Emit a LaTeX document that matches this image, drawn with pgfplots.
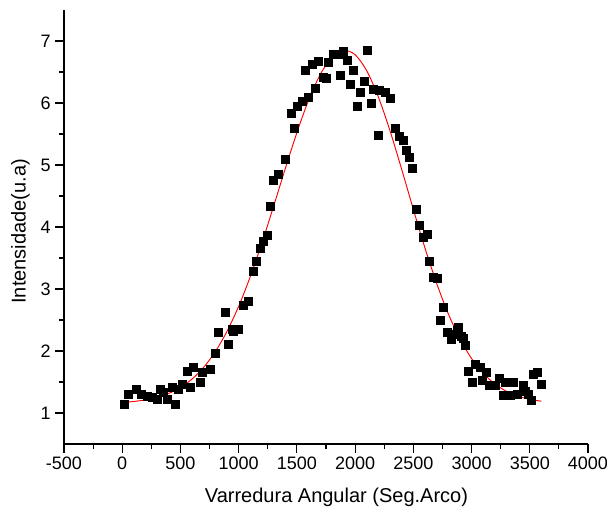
\documentclass[border=0pt]{standalone}
\usepackage{pgfplots}
\pgfplotsset{compat=1.18}
\usepackage{fontspec}
\setmainfont{Liberation Sans}
\begin{document}
\begin{tikzpicture}
\begin{axis}[
  scale only axis,
  width=393pt, height=325.5pt,
  xmin=-500, xmax=4000, ymin=0.5, ymax=7.5,
  axis lines=left,
  axis line style={-, line width=0.9pt},
  tick align=outside,
  tick style={black, line width=0.9pt},
  major tick length=6.5pt,
  minor tick length=4pt,
  xtick={-500,0,500,1000,1500,2000,2500,3000,3500,4000},
  xticklabels={-500,0,500,1000,1500,2000,2500,3000,3500,4000},
  minor xtick={-250,250,750,1250,1750,2250,2750,3250,3750},
  ytick={1,2,3,4,5,6,7},
  yticklabels={1,2,3,4,5,6,7},
  minor ytick={1.5,2.5,3.5,4.5,5.5,6.5},
  ticklabel style={font=\fontsize{13.5}{15}\selectfont},
  label style={font=\fontsize{15}{17}\selectfont},
  xlabel={Varredura Angular (Seg.Arco)},
  ylabel={Intensidade(u.a)},
  xlabel style={at={(axis description cs:0.52,-0.122)}, anchor=center},
  ylabel style={at={(axis description cs:-0.083,0.49)}, anchor=center},
  clip=false,
]
\addplot[only marks, mark=square*, mark size=3pt, black] coordinates {
(17,1.14) (54,1.30) (120,1.38) (161,1.30) (212,1.27) (255,1.25) (298,1.22)
(326,1.38) (355,1.33) (384,1.22) (427,1.41) (455,1.14) (484,1.38) (513,1.46)
(556,1.68) (584,1.41) (613,1.73) (670,1.49) (685,1.65) (756,1.70) (799,1.97)
(827,2.30) (885,2.62) (913,2.11) (942,2.35) (956,2.32) (999,2.35) (1042,2.73)
(1085,2.80) (1128,3.28) (1151,3.45) (1186,3.65) (1214,3.77) (1243,3.87)
(1271,4.34) (1300,4.75) (1343,4.85) (1400,5.09) (1449,5.83) (1480,5.59)
(1501,5.94) (1544,6.03) (1572,6.53) (1601,6.09) (1630,6.62) (1658,6.24)
(1686,6.67) (1724,6.41) (1753,6.40) (1772,6.65) (1810,6.79) (1858,6.79)
(1873,6.45) (1901,6.83) (1936,6.69) (1959,6.31) (1987,6.53) (2016,5.95)
(2045,6.17) (2079,6.35) (2107,6.85) (2137,5.99) (2159,6.22) (2197,5.48)
(2210,6.21) (2259,6.18) (2302,6.07) (2345,5.59) (2382,5.47) (2417,5.40)
(2440,5.23) (2468,5.13) (2494,4.94) (2523,4.29) (2554,4.02) (2583,3.83)
(2618,3.88) (2640,3.45) (2674,3.19) (2709,3.18) (2732,2.50) (2760,2.71)
(2789,2.31) (2824,2.19) (2840,2.27) (2875,2.33) (2889,2.38) (2912,2.24)
(2932,2.21) (2947,2.09) (2975,1.67) (3004,1.49) (3033,1.78) (3076,1.73)
(3090,1.53) (3127,1.65) (3156,1.44) (3204,1.44) (3241,1.56) (3276,1.29)
(3290,1.49) (3333,1.29) (3356,1.49) (3391,1.31) (3442,1.44) (3462,1.35)
(3490,1.31) (3511,1.20) (3533,1.62) (3568,1.66) (3597,1.46)
};
\addplot[red, line width=0.7pt, smooth, no marks] coordinates {
(0,1.170) (100,1.186) (200,1.212) (300,1.253) (400,1.317) (500,1.412)
(600,1.548) (700,1.738) (800,1.991) (900,2.318) (1000,2.721) (1100,3.201)
(1200,3.745) (1300,4.335) (1400,4.940) (1500,5.522) (1600,6.043) (1700,6.458)
(1800,6.735) (1900,6.848) (2000,6.779) (2100,6.519) (2200,6.096) (2300,5.550)
(2400,4.930) (2500,4.285) (2600,3.661) (2700,3.093) (2800,2.601) (2900,2.197)
(3000,1.879) (3100,1.640) (3200,1.469) (3300,1.350) (3400,1.271) (3500,1.221)
(3600,1.190)
};
\end{axis}
\pgfresetboundingbox
\path[use as bounding box] (-48pt,-53.25pt) rectangle (407.25pt,333pt);
\end{tikzpicture}
\end{document}
